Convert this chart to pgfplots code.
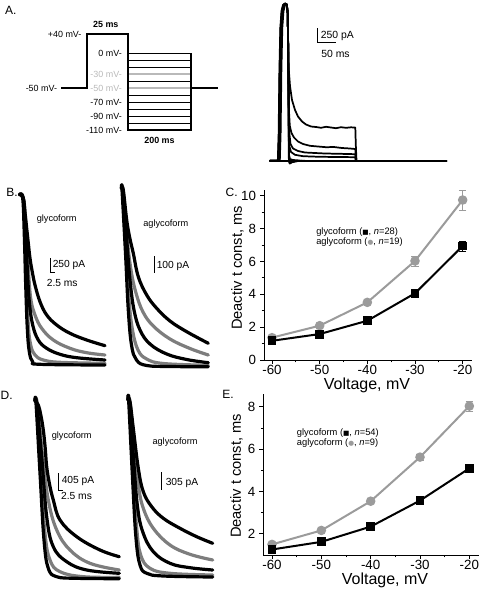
\documentclass[border=0pt]{standalone}
\usepackage{fontspec}
\setmainfont{Liberation Sans}
\newfontfamily\dejavu{DejaVu Sans}
\usepackage{pgfplots}
\pgfplotsset{compat=1.18}
\definecolor{trgray}{RGB}{125,125,125}
\definecolor{cgray}{RGB}{155,155,155}
\definecolor{lgray}{RGB}{185,185,185}
\newcommand{\fs}[1]{\fontsize{#1}{#1}\selectfont}
\tikzset{
  trb/.style={black, line width=2.4pt, line cap=round, line join=round, smooth, tension=0.65},
  trg/.style={trgray, line width=2.4pt, line cap=round, line join=round, smooth, tension=0.65},
  cur/.style={black, line width=1.3pt, line join=round, line cap=round},
}
\begin{document}
\begin{tikzpicture}
% ---------- overlay axis in reference pixel units (traces, protocol, texts) ----------
\begin{axis}[at={(0pt,0pt)}, anchor=south west, scale only axis,
  width=362.25pt, height=445.5pt, xmin=0, xmax=483, ymin=0, ymax=594,
  y dir=reverse, hide axis, clip=false, no markers]
% ===== Panel A: protocol =====
\addplot[black, line width=0.7pt] coordinates {(127.7,60.3)(191,60.3)};
\addplot[black, line width=0.7pt] coordinates {(127.7,67.2)(191,67.2)};
\addplot[lgray, line width=1.3pt] coordinates {(127.7,74.2)(191,74.2)};
\addplot[black, line width=0.7pt] coordinates {(127.7,81.2)(191,81.2)};
\addplot[lgray, line width=1.3pt] coordinates {(127.7,88.2)(191,88.2)};
\addplot[black, line width=0.7pt] coordinates {(127.7,95.1)(191,95.1)};
\addplot[black, line width=0.7pt] coordinates {(127.7,102.1)(191,102.1)};
\addplot[black, line width=0.7pt] coordinates {(127.7,109.1)(191,109.1)};
\addplot[black, line width=0.7pt] coordinates {(127.7,116.0)(191,116.0)};
\addplot[black, line width=0.7pt] coordinates {(127.7,123.0)(191,123.0)};
\addplot[black, line width=1.0pt] coordinates {(127.7,53.3)(191,53.3)};
\addplot[black, line width=1.6pt, line join=miter] coordinates {(61,87.7)(87.3,87.7)(87.3,33.7)(127.7,33.7)(127.7,130)(191,130)(191,53.3)};
\addplot[black, line width=1.6pt] coordinates {(191,87.7)(217.7,87.7)};
\node[anchor=east, font=\fs{6.7}, inner sep=0pt] at (81.7,34) {+40 mV-};
\node[anchor=east, font=\fs{6.7}, inner sep=0pt] at (57.3,88) {-50 mV-};
\node[anchor=east, font=\fs{6.7}, inner sep=0pt] at (122,53.5) {0 mV-};
\node[anchor=east, font=\fs{6.7}, inner sep=0pt, text=lgray] at (122,74.2) {-30 mV-};
\node[anchor=east, font=\fs{6.7}, inner sep=0pt, text=lgray] at (122,88.2) {-50 mV-};
\node[anchor=east, font=\fs{6.7}, inner sep=0pt] at (122,102.1) {-70 mV-};
\node[anchor=east, font=\fs{6.7}, inner sep=0pt] at (122,116) {-90 mV-};
\node[anchor=east, font=\fs{6.7}, inner sep=0pt] at (122,130) {-110 mV-};
\node[font=\fs{6.7}\bfseries, inner sep=0pt] at (105.8,24.5) {25 ms};
\node[font=\fs{6.7}\bfseries, inner sep=0pt] at (159.5,140) {200 ms};
% ===== Panel A: currents =====
\addplot[cur] coordinates {(270,160.7)(446.7,160.7)};
\addplot[cur] coordinates {(270,160.7)(277.8,160.7)(278.6,135)(279.4,70)(280.3,28)(281.5,11)(283,5)(285,3.5)(286.8,4.5)(287.6,12)(288.1,40)(288.8,70)(290,86)(292,100)(295,110)(298,116.5)(302,121.5)(306,124.5)(311,126.5)(316,127)(321,127.8)(326,126.8)(331,127.5)(336,128.2)(341,127.2)(346,127.8)(351,127.3)(355.3,127.6)(355.8,145)(356.5,160.7)};
\addplot[cur] coordinates {(270,160.7)(278.3,160.7)(279.1,135)(279.9,70)(280.8,28)(282,11)(283.5,5)(285,3.5)(286.8,4.5)(287.6,12)(288.1,40)(288.9,110)(289.8,126)(291.5,133)(294,137.5)(298,141.5)(303,144)(310,145.8)(318,146.5)(326,147.2)(334,147)(342,148)(350,148.5)(355.3,149)(355.9,160.7)};
\addplot[cur] coordinates {(270,160.7)(278.8,160.7)(279.6,135)(280.4,70)(281.3,28)(282.5,11)(284,5)(285.3,3.6)(286.8,4.5)(287.6,12)(288.1,40)(289,130)(290.5,144)(293,148.5)(298,151)(305,152.5)(315,153)(325,153.5)(340,153.8)(355.3,154.2)(355.9,160.7)};
\addplot[cur] coordinates {(270,160.7)(279.3,160.7)(280.1,135)(280.9,70)(281.8,28)(283,11)(284.5,5)(285.6,3.8)(286.8,4.5)(287.6,12)(288.1,40)(289,145)(291,152)(295,154.8)(303,156.2)(320,156.8)(340,157)(355.3,157.2)(355.9,160.7)};
\addplot[cur] coordinates {(270,160.7)(279.8,160.7)(280.6,135)(281.4,70)(282.3,28)(283.5,11)(285,5)(285.8,4)(286.8,4.5)(287.6,12)(288.1,40)(289,155)(290,159)(293,160)(300,160.5)};
\addplot[cur] coordinates {(270,160.7)(278.1,160.7)(278.9,135)(279.7,70)(280.6,28)(281.8,11)(283.3,5)(285,3.5)(286.8,4.5)(287.6,12)(288.1,40)(288.8,158)(289.4,163)(291,162.5)(295,161.3)(302,160.7)};
\addplot[cur] coordinates {(270,160.7)(279,160.7)(279.8,135)(280.6,70)(281.5,28)(282.7,11)(284.2,5)(285.2,3.6)(286.8,4.5)(287.6,12)(288.1,40)(289,160)(289.8,163.5)(292,162.2)(298,161)(305,160.7)};
\addplot[black, line width=0.6pt] coordinates {(317.7,28.3)(317.7,42.7)(336,42.7)};
\node[anchor=west, font=\fs{7.8}, inner sep=0pt] at (320.5,36.3) {250 pA};
\node[font=\fs{7.8}, inner sep=0pt] at (335.5,54) {50 ms};
% ===== Panel B: traces =====
\addplot[trg] coordinates {(19.5,194.5)(23.3,198.3)(25.2,213)(26,228.3)(27.2,250)(28.3,268.3)(30.7,298.3)(35,315)(41.7,328.3)(53.3,340)(70,348.3)(86.7,352.7)(105,355)};
\addplot[trg] coordinates {(19.5,194.5)(23.3,198.3)(25,235)(26.7,285)(28.3,325)(30.7,345)(35,355)(43.3,360)(60,362.3)(105,363.3)};
\addplot[trb] coordinates {(19.5,194.5)(23.3,198.3)(25,213)(26.7,228.3)(28.3,243)(30,258.3)(32.3,272)(35,285)(40,301.7)(46.7,315)(56.7,325)(70,333.3)(86.7,340)(105,345.7)};
\addplot[trb] coordinates {(19.5,194.5)(23.3,198.3)(25.3,228.3)(27.3,268.3)(29.3,301.7)(32.7,325)(38.3,340)(46.7,348.3)(60,354.3)(76.7,357.7)(105,360)};
\addplot[trb] coordinates {(19.5,194.5)(22.7,198.3)(24.3,235)(25.7,285)(27.3,328.3)(29.3,351.7)(32.7,361.7)(40,364.3)(105,365)};
\addplot[trg] coordinates {(121.5,188.5)(123,190)(127,236.7)(131,270)(136,293)(143,312)(153.3,326)(170,339)(190,348.5)(208.3,355)};
\addplot[trg] coordinates {(121.5,188.5)(122.7,190)(126,253.3)(129,300)(132.5,330)(138,350)(146.7,359)(163.3,363.5)(208.3,365.3)};
\addplot[trb] coordinates {(121.5,188.5)(123.3,190)(126.7,220)(129.8,238)(133.3,253.3)(138.3,276.7)(146.7,295)(156.7,308.3)(170,321)(186.7,331.7)(208.3,343.3)};
\addplot[trb] coordinates {(121.5,188.5)(122.7,190)(126.5,236.7)(130,280)(134,310)(140,330)(150,344)(166.7,354)(186.7,359.5)(208.3,362.7)};
\addplot[trb] coordinates {(121.5,188.5)(122,190)(125.5,253.3)(128.3,310)(131.5,345)(136.5,360)(146.7,365.5)(170,366.5)(208.3,366.8)};
\addplot[black, line width=0.6pt] coordinates {(50,258)(50,272)(55,272)};
\addplot[black, line width=0.6pt] coordinates {(154,256)(154,273)};
\node[font=\fs{6.9}, inner sep=0pt] at (56.7,219) {glycoform};
\node[font=\fs{6.9}, inner sep=0pt] at (165.8,224.6) {aglycoform};
\node[anchor=west, font=\fs{7.7}, inner sep=0pt] at (52.5,265.3) {250 pA};
\node[font=\fs{7.7}, inner sep=0pt] at (62.2,282.5) {2.5 ms};
\node[anchor=west, font=\fs{7.7}, inner sep=0pt] at (156.5,266) {100 pA};
% ===== Panel D: traces =====
\addplot[trg] coordinates {(35,401)(37.3,403.3)(42.7,456.7)(48.3,500)(56.7,530)(70,550)(90,563.3)(119.3,570)};
\addplot[trg] coordinates {(35,401)(36.7,403.3)(41,473.3)(45,533.3)(50,560)(60,571.7)(83.3,576.7)(119.3,577.3)};
\addplot[trb] coordinates {(35,401)(38.3,405)(40.8,415)(43.3,430)(45.2,448)(46.7,466.7)(49.5,484)(53.3,500)(60,520)(76.7,536.7)(100,550)(119.3,556.7)};
\addplot[trb] coordinates {(35,401)(36.7,403.3)(41.7,456.7)(46.7,516.7)(53.3,546.7)(66.7,561.7)(86.7,570)(119.3,573.3)};
\addplot[trb] coordinates {(35,401)(36,403.3)(40,473.3)(44,540)(48.3,568.3)(56.7,576.7)(76.7,578.3)(119.3,578.7)};
\addplot[trg] coordinates {(128,400)(130,401.7)(134,445)(138.3,485)(143.3,508.3)(153.3,528.3)(170,545)(190,554.3)(212.7,560)};
\addplot[trg] coordinates {(128,400)(129.3,401.7)(133.3,478.3)(136.7,528.3)(140.7,555)(150,568.3)(170,573.3)(212.7,575)};
\addplot[trb] coordinates {(128,400)(130,401.7)(133.3,428.3)(138.3,468.3)(143.3,491.7)(151.7,506.7)(163.3,518.3)(180,528.3)(196.7,536.7)(212.7,543.3)};
\addplot[trb] coordinates {(128,400)(129.3,401.7)(133.3,455)(137.3,505)(142.7,531.7)(153.3,551.7)(170,563.3)(190,567.7)(212.7,570)};
\addplot[trb] coordinates {(128,400)(128.7,401.7)(132.7,481.7)(136,538.3)(140,565)(146.7,573.3)(163.3,576)(212.7,577)};
\addplot[black, line width=0.6pt] coordinates {(58.3,473.3)(58.3,490)(63.3,490)};
\addplot[black, line width=0.6pt] coordinates {(161.7,472.3)(161.7,490)};
\node[font=\fs{6.9}, inner sep=0pt] at (71.7,436) {glycoform};
\node[font=\fs{6.9}, inner sep=0pt] at (175,442.5) {aglycoform};
\node[anchor=west, font=\fs{7.7}, inner sep=0pt] at (61.5,480.5) {405 pA};
\node[font=\fs{7.7}, inner sep=0pt] at (76.5,495.5) {2.5 ms};
\node[anchor=west, font=\fs{7.7}, inner sep=0pt] at (165.5,483) {305 pA};
% ===== panel letters =====
\node[font=\fs{9}, inner sep=0pt] at (10.8,10) {A.};
\node[font=\fs{9}, inner sep=0pt] at (12,192.5) {B.};
\node[font=\fs{9}, inner sep=0pt] at (231.7,192.5) {C.};
\node[font=\fs{9}, inner sep=0pt] at (6.7,395) {D.};
\node[font=\fs{9}, inner sep=0pt] at (228,394) {E.};
% ===== C / E labels and legends =====
\node[font=\fs{11}, rotate=90, inner sep=0pt] at (237.5,268) {Deactiv t const, ms};
\node[font=\fs{11}, rotate=90, inner sep=0pt] at (236.5,476) {Deactiv t const, ms};
\node[font=\fs{12}, inner sep=0pt] at (367,385) {Voltage, mV};
\node[font=\fs{12}, inner sep=0pt] at (385,580) {Voltage, mV};
\node[anchor=west, font=\fs{7}, inner sep=0pt] at (316,232) {glycoform ({\dejavu\fs{5}■}, \textit{n}=28)};
\node[anchor=west, font=\fs{7}, inner sep=0pt] at (316,242) {aglycoform ({\dejavu\fs{5}\color{cgray}●}, \textit{n}=19)};
\node[anchor=west, font=\fs{7}, inner sep=0pt] at (296.7,433) {glycoform ({\dejavu\fs{5}■}, \textit{n}=54)};
\node[anchor=west, font=\fs{7}, inner sep=0pt] at (296.7,443) {aglycoform ({\dejavu\fs{5}\color{cgray}●}, \textit{n}=9)};
\end{axis}
% ---------- Panel C ----------
\begin{axis}[at={(198pt,175.5pt)}, anchor=south west, scale only axis,
  width=155.8pt, height=127.5pt, xmin=-61.68, xmax=-18.1, ymin=0, ymax=10.35,
  axis lines*=left, axis line style={line width=0.7pt},
  xtick={-60,-50,-40,-30,-20}, minor xtick={-55,-45,-35,-25},
  ytick={0,2,4,6,8,10}, minor ytick={1,3,5,7,9},
  tick align=outside, major tick length=3pt, minor tick length=1.8pt,
  tick style={black, line width=0.6pt},
  ticklabel style={font=\fs{10}},
  xticklabel style={yshift=2.5pt}, yticklabel style={xshift=0.5pt},
  /pgf/number format/assume math mode=true, clip=false]
\addplot[cgray, line width=1.5pt, mark=*, mark size=2.8pt, mark options={solid, fill=cgray},
  error bars/.cd, y dir=both, y explicit, error bar style={cgray, line width=0.5pt}]
  coordinates {(-60,1.36)+-(0,0.08) (-50,2.09)+-(0,0.1) (-40,3.51)+-(0,0.12) (-30,6.03)+-(0,0.3) (-20,9.74)+-(0,0.6)};
\addplot[black, line width=1.5pt, mark=square*, mark size=2.6pt, mark options={solid, fill=black},
  error bars/.cd, y dir=both, y explicit, error bar style={black, line width=0.5pt}]
  coordinates {(-60,1.17)+-(0,0.05) (-50,1.58)+-(0,0.08) (-40,2.39)+-(0,0.1) (-30,4.06)+-(0,0.15) (-20,6.94)+-(0,0.3)};
\end{axis}
% ---------- Panel E ----------
\begin{axis}[at={(197.5pt,29.25pt)}, anchor=south west, scale only axis,
  width=161.8pt, height=120.75pt, xmin=-61.76, xmax=-18.03, ymin=1, ymax=8.6,
  axis lines*=left, axis line style={line width=0.7pt},
  xtick={-60,-50,-40,-30,-20}, minor xtick={-55,-45,-35,-25},
  ytick={2,4,6,8}, minor ytick={3,5,7},
  tick align=outside, major tick length=3pt, minor tick length=1.8pt,
  tick style={black, line width=0.6pt},
  ticklabel style={font=\fs{10}},
  xticklabel style={yshift=2.5pt}, yticklabel style={xshift=0.5pt},
  /pgf/number format/assume math mode=true, clip=false]
\addplot[cgray, line width=1.5pt, mark=*, mark size=2.8pt, mark options={solid, fill=cgray},
  error bars/.cd, y dir=both, y explicit, error bar style={cgray, line width=0.5pt}]
  coordinates {(-60,1.5)+-(0,0.05) (-50,2.16)+-(0,0.08) (-40,3.54)+-(0,0.1) (-30,5.62)+-(0,0.15) (-20,8.03)+-(0,0.25)};
\addplot[black, line width=1.5pt, mark=square*, mark size=2.6pt, mark options={solid, fill=black},
  error bars/.cd, y dir=both, y explicit, error bar style={black, line width=0.5pt}]
  coordinates {(-60,1.26)+-(0,0.04) (-50,1.62)+-(0,0.05) (-40,2.34)+-(0,0.06) (-30,3.57)+-(0,0.08) (-20,5.09)+-(0,0.15)};
\end{axis}
\pgfresetboundingbox
\path (0pt,0pt) rectangle (362.25pt,445.5pt);
\end{tikzpicture}
\end{document}
